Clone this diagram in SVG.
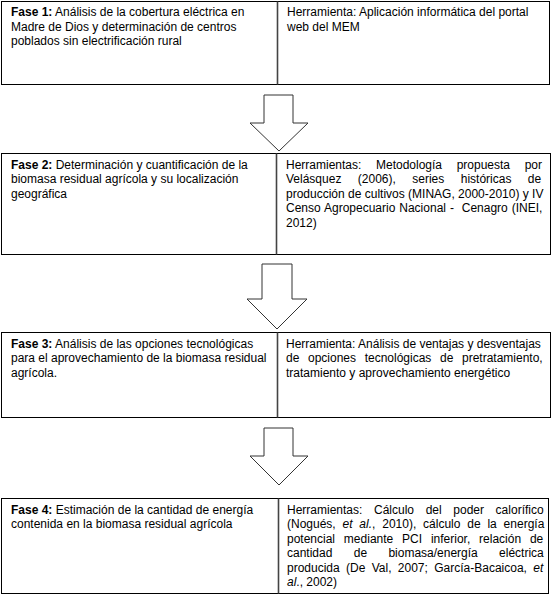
<svg xmlns="http://www.w3.org/2000/svg" width="552" height="595" viewBox="0 0 552 595">
<style>
.box{fill:#fff;stroke:#000;stroke-width:1}
.div{stroke:#444;stroke-width:1.6}
.arrow{fill:#fff;stroke:#333;stroke-width:1}
text{font-family:"Liberation Sans",Arial,sans-serif;font-size:12px;fill:#000}
.b{font-weight:bold}
.i{font-style:italic}
</style>
<rect width="552" height="595" fill="#fff"/>
<g id="fase1">
<rect class="box" x="1.5" y="1.5" width="548" height="83"/>
<line class="div" x1="277.5" y1="1.5" x2="277.5" y2="84.5"/>
<text x="11" y="16"><tspan class="b">Fase 1:</tspan> Análisis de la cobertura eléctrica en</text>
<text x="11" y="30.5">Madre de Dios y determinación de centros</text>
<text x="11" y="45">poblados sin electrificación rural</text>
<text x="287" y="16">Herramienta: Aplicación informática del portal</text>
<text x="287" y="30.5">web del MEM</text>
</g>
<g id="fase2">
<rect class="box" x="1.5" y="153.5" width="549" height="101"/>
<line class="div" x1="276.5" y1="153.5" x2="276.5" y2="254.5"/>
<text x="11" y="168.5"><tspan class="b">Fase 2:</tspan> Determinación y cuantificación de la</text>
<text x="11" y="183">biomasa residual agrícola y su localización</text>
<text x="11" y="197.5">geográfica</text>
<text x="286" y="168.5" word-spacing="11.3">Herramientas: Metodología propuesta por</text>
<text x="286" y="183" word-spacing="13.1">Velásquez (2006), series históricas de</text>
<text x="286" y="197.5">producción de cultivos (MINAG, 2000-2010) y IV</text>
<text x="286" y="212" word-spacing="0.6">Censo Agropecuario Nacional - &#160;Cenagro (INEI,</text>
<text x="286" y="226.5">2012)</text>
</g>
<g id="fase3">
<rect class="box" x="1.5" y="332.5" width="549" height="85"/>
<line class="div" x1="277.5" y1="332.5" x2="277.5" y2="417.5"/>
<text x="11" y="347.5"><tspan class="b">Fase 3:</tspan> Análisis de las opciones tecnológicas</text>
<text x="11" y="362">para el aprovechamiento de la biomasa residual</text>
<text x="11" y="376.5">agrícola.</text>
<text x="286" y="347.5">Herramienta: Análisis de ventajas y desventajas</text>
<text x="286" y="362" word-spacing="5.3">de opciones tecnológicas de pretratamiento,</text>
<text x="286" y="376.5">tratamiento y aprovechamiento energético</text>
</g>
<g id="fase4">
<rect class="box" x="1.5" y="498.5" width="547" height="95"/>
<line class="div" x1="278.5" y1="498.5" x2="278.5" y2="593.5"/>
<text x="11" y="513.5"><tspan class="b">Fase 4:</tspan> Estimación de la cantidad de energía</text>
<text x="11" y="528">contenida en la biomasa residual agrícola</text>
<text x="287" y="513.5" word-spacing="8.3">Herramientas: Cálculo del poder calorífico</text>
<text x="287" y="528" word-spacing="3.5">(Nogués, <tspan class="i">et al.</tspan>, 2010), cálculo de la energía</text>
<text x="287" y="542.5" word-spacing="5.5">potencial mediante PCI inferior, relación de</text>
<text x="287" y="557" word-spacing="18">cantidad de biomasa/energía eléctrica</text>
<text x="287" y="571.5" word-spacing="3">producida (De Val, 2007; García-Bacaicoa, <tspan class="i">et</tspan></text>
<text x="287" y="586"><tspan class="i">al</tspan>., 2002)</text>
</g>
<g id="connectors">
<polygon class="arrow" points="264,95 293,95 293,123 308,123 279,151 250,123 264,123"/>
<polygon class="arrow" points="262,264 292,264 292,299 307,299 277,329 247,299 262,299"/>
<polygon class="arrow" points="264,428 293,428 293,456 308,456 279,485 250,456 264,456"/>
</g>
</svg>
